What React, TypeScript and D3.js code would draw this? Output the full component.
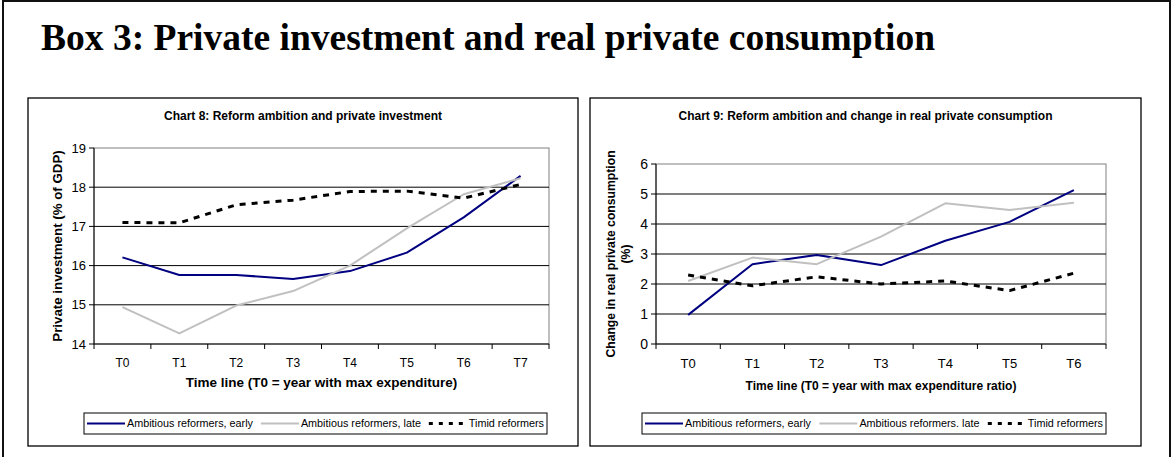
import React from "react";
import * as d3 from "d3";

// ---- data ----
const chart8Categories = ["T0", "T1", "T2", "T3", "T4", "T5", "T6", "T7"];
const chart8Early = [16.21, 15.76, 15.76, 15.66, 15.86, 16.33, 17.23, 18.29];
const chart8Late = [14.94, 14.27, 14.98, 15.35, 16.0, 16.95, 17.82, 18.23];
const chart8Timid = [17.1, 17.09, 17.55, 17.67, 17.89, 17.9, 17.72, 18.07];
const chart8Ticks = [14, 15, 16, 17, 18, 19];

const chart9Categories = ["T0", "T1", "T2", "T3", "T4", "T5", "T6"];
const chart9Early = [0.97, 2.66, 2.97, 2.63, 3.44, 4.07, 5.13];
const chart9Late = [2.1, 2.88, 2.66, 3.58, 4.69, 4.47, 4.71];
const chart9Timid = [2.3, 1.94, 2.24, 2.0, 2.1, 1.78, 2.36];
const chart9Ticks = [0, 1, 2, 3, 4, 5, 6];

const chart8Legend = ["Ambitious reformers, early", "Ambitious reformers, late", "Timid reformers"];
const chart9Legend = ["Ambitious reformers, early", "Ambitious reformers. late", "Timid reformers"];

const FONT = "'Liberation Sans', Arial, sans-serif";
const SERIES_STYLE = [
  { color: "#000080", width: 2, dash: undefined as string | undefined },
  { color: "#c0c0c0", width: 2, dash: undefined as string | undefined },
  { color: "#000000", width: 3, dash: "6,6" },
];

let measureCtx: CanvasRenderingContext2D | null = null;
function textWidth(text: string, size: number) {
  if (!measureCtx) measureCtx = document.createElement("canvas").getContext("2d");
  if (!measureCtx) return text.length * size * 0.5;
  measureCtx.font = `${size}px ${FONT}`;
  return measureCtx.measureText(text).width;
}

interface PanelProps {
  frame: { x: number; y: number; w: number; h: number };
  plot: { left: number; right: number; top: number; bottom: number };
  title: string;
  titleY: number;
  titleSize: number;
  categories: string[];
  series: number[][];
  ticks: number[];
  yTitle: string[];
  yTitleX: number;
  yTitleSize: number;
  xTitle: string;
  xTitleY: number;
  xTitleSize: number;
  tickSize: number;
  catSize: number;
  legendNames: string[];
  legendBox: { x: number; y: number; w: number; h: number };
}

function Panel(p: PanelProps) {
  const x = d3.scaleBand<string>().domain(p.categories).range([p.plot.left, p.plot.right]).padding(0);
  const y = d3
    .scaleLinear()
    .domain([p.ticks[0], p.ticks[p.ticks.length - 1]])
    .range([p.plot.bottom, p.plot.top]);
  const cx = (c: string) => (x(c) ?? 0) + x.bandwidth() / 2;

  const line = d3
    .line<number>()
    .x((_, i) => cx(p.categories[i]))
    .y((d) => y(d));

  const boundaries = [...p.categories.map((c) => x(c) ?? 0), p.plot.right];

  // legend layout: symbol + text, spread across the box
  const legendFont = 10.8;
  const symLen = 38;
  const widths = p.legendNames.map((n) => textWidth(n, legendFont));
  const used = widths.reduce((a, b) => a + b, 0) + p.legendNames.length * (symLen + 2);
  const gap = Math.max(2, (p.legendBox.w - 6 - used) / (p.legendNames.length - 1));
  let lx = p.legendBox.x + 3;
  const legendItems = p.legendNames.map((n, i) => {
    const item = { name: n, x: lx, style: SERIES_STYLE[i] };
    lx += symLen + 2 + widths[i] + gap;
    return item;
  });
  const ly = p.legendBox.y + p.legendBox.h / 2;
  const ytCenter = (p.plot.top + p.plot.bottom) / 2;

  return (
    <g>
      <rect x={p.frame.x} y={p.frame.y} width={p.frame.w} height={p.frame.h} fill="#fff" stroke="#000" strokeWidth={1.3} />
      <text
        x={p.frame.x + p.frame.w / 2}
        y={p.titleY}
        textAnchor="middle"
        fontFamily={FONT}
        fontWeight="bold"
        fontSize={p.titleSize}
        fill="#000"
      >
        {p.title}
      </text>

      {/* plot area border */}
      <rect
        x={p.plot.left}
        y={p.plot.top}
        width={p.plot.right - p.plot.left}
        height={p.plot.bottom - p.plot.top}
        fill="#fff"
        stroke="#808080"
        strokeWidth={1}
      />
      {/* gridlines */}
      {p.ticks.slice(1, -1).map((t) => (
        <line key={t} x1={p.plot.left} x2={p.plot.right} y1={y(t)} y2={y(t)} stroke="#000" strokeWidth={1} />
      ))}
      {/* y axis */}
      <line x1={p.plot.left} x2={p.plot.left} y1={p.plot.top} y2={p.plot.bottom} stroke="#000" strokeWidth={1} />
      {p.ticks.map((t) => (
        <g key={t}>
          <line x1={p.plot.left - 5} x2={p.plot.left} y1={y(t)} y2={y(t)} stroke="#000" />
          <text
            x={p.plot.left - 8}
            y={y(t)}
            dy="0.35em"
            textAnchor="end"
            fontFamily={FONT}
            fontSize={p.tickSize}
            fill="#000"
          >
            {t}
          </text>
        </g>
      ))}
      {/* x axis */}
      <line x1={p.plot.left} x2={p.plot.right} y1={p.plot.bottom} y2={p.plot.bottom} stroke="#000" strokeWidth={1} />
      {boundaries.map((b, i) => (
        <line key={i} x1={b} x2={b} y1={p.plot.bottom} y2={p.plot.bottom + 5} stroke="#000" />
      ))}
      {p.categories.map((c) => (
        <text
          key={c}
          x={cx(c)}
          y={p.plot.bottom + 19}
          dy="0.35em"
          textAnchor="middle"
          fontFamily={FONT}
          fontSize={p.catSize}
          fill="#000"
        >
          {c}
        </text>
      ))}

      {/* series */}
      {p.series.map((s, i) => (
        <path
          key={i}
          d={line(s) ?? ""}
          fill="none"
          stroke={SERIES_STYLE[i].color}
          strokeWidth={SERIES_STYLE[i].width}
          strokeDasharray={SERIES_STYLE[i].dash}
          strokeLinejoin="round"
        />
      ))}

      {/* axis titles */}
      <text
        x={p.plot.left + (p.plot.right - p.plot.left) / 2}
        y={p.xTitleY}
        textAnchor="middle"
        fontFamily={FONT}
        fontWeight="bold"
        fontSize={p.xTitleSize}
        fill="#000"
      >
        {p.xTitle}
      </text>
      <text
        transform={`translate(${p.yTitleX},${ytCenter}) rotate(-90)`}
        textAnchor="middle"
        fontFamily={FONT}
        fontWeight="bold"
        fontSize={p.yTitleSize}
        fill="#000"
      >
        {p.yTitle.map((t, i) => (
          <tspan key={i} x={0} dy={i === 0 ? `${0.35 - (p.yTitle.length - 1) * 0.6}em` : "1.2em"}>
            {t}
          </tspan>
        ))}
      </text>

      {/* legend */}
      <rect
        x={p.legendBox.x}
        y={p.legendBox.y}
        width={p.legendBox.w}
        height={p.legendBox.h}
        fill="#fff"
        stroke="#000"
        strokeWidth={1}
      />
      {legendItems.map((it) => (
        <g key={it.name}>
          <line
            x1={it.x}
            x2={it.x + symLen}
            y1={ly}
            y2={ly}
            stroke={it.style.color}
            strokeWidth={it.style.width}
            strokeDasharray={it.style.dash ? "4,6" : undefined}
          />
          <text x={it.x + symLen + 2} y={ly} dy="0.35em" fontFamily={FONT} fontSize={legendFont} fill="#000">
            {it.name}
          </text>
        </g>
      ))}
    </g>
  );
}

export default function App() {
  const W = 1172;
  const H = 457;
  return (
    <svg
      width={W}
      height={H}
      viewBox={`0 0 ${W} ${H}`}
      style={{ position: "absolute", left: 0, top: 0, background: "#fff" }}
    >
      <rect x={0} y={0} width={W} height={H} fill="#fff" />
      {/* outer box frame */}
      <path d={`M3,${H} V1 H1170 V${H}`} fill="none" stroke="#111" strokeWidth={2} />
      <text
        x={41}
        y={50}
        fontFamily="'Liberation Serif', 'Times New Roman', serif"
        fontWeight="bold"
        fontSize={37.5}
        fill="#000"
      >
        Box 3: Private investment and real private consumption
      </text>

      <Panel
        frame={{ x: 28, y: 98, w: 550, h: 348 }}
        plot={{ left: 94, right: 549, top: 148, bottom: 344 }}
        title="Chart 8: Reform ambition and private investment"
        titleY={120}
        titleSize={12}
        categories={chart8Categories}
        series={[chart8Early, chart8Late, chart8Timid]}
        ticks={chart8Ticks}
        yTitle={["Private investment (% of GDP)"]}
        yTitleX={57}
        yTitleSize={13.3}
        xTitle="Time line (T0 = year with max expenditure)"
        xTitleY={387}
        xTitleSize={13.5}
        tickSize={13}
        catSize={12}
        legendNames={chart8Legend}
        legendBox={{ x: 84, y: 413, w: 463, h: 21 }}
      />
      <Panel
        frame={{ x: 590, y: 98, w: 551, h: 348 }}
        plot={{ left: 656, right: 1106, top: 164, bottom: 344 }}
        title="Chart 9: Reform ambition and change in real private consumption"
        titleY={120}
        titleSize={12}
        categories={chart9Categories}
        series={[chart9Early, chart9Late, chart9Timid]}
        ticks={chart9Ticks}
        yTitle={["Change in real private consumption", "(%)"]}
        yTitleX={618}
        yTitleSize={12.2}
        xTitle="Time line (T0 = year with max expenditure ratio)"
        xTitleY={390}
        xTitleSize={12}
        tickSize={14}
        catSize={13}
        legendNames={chart9Legend}
        legendBox={{ x: 642, y: 413, w: 464, h: 21 }}
      />
    </svg>
  );
}
